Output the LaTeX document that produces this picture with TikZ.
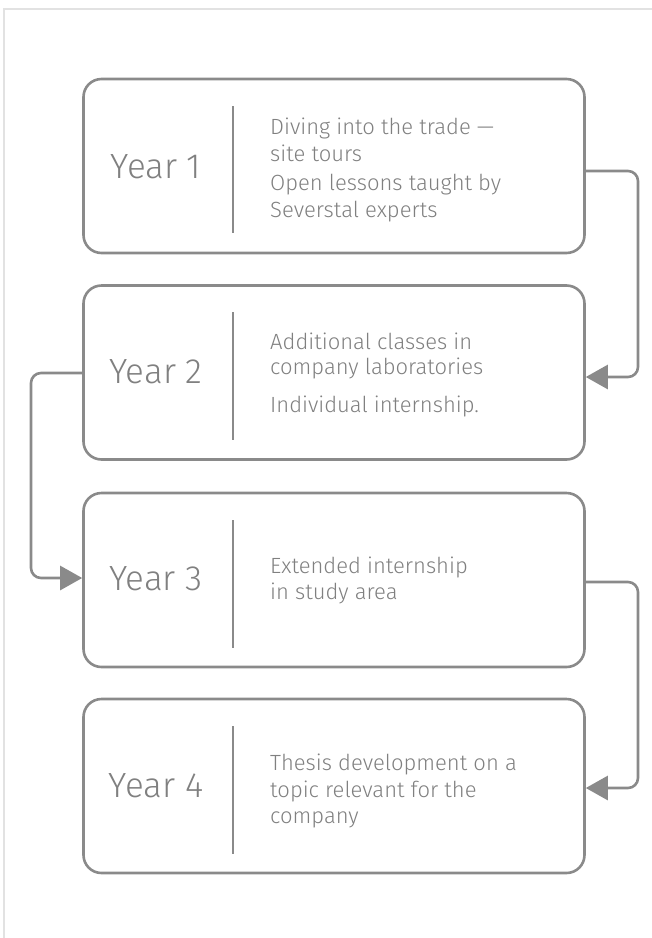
\documentclass[tikz,border=0pt]{standalone}
\usepackage{fontspec}
\setmainfont{Fira Sans Light}
\newfontfamily\yearfnt{Fira Sans Light}
\usetikzlibrary{arrows.meta}
\definecolor{linegray}{HTML}{8A8A8A}
\definecolor{textgray}{HTML}{808080}
\definecolor{framegray}{HTML}{E2E2E2}
\tikzset{
  yearbox/.style={draw=linegray, line width=2.6pt, rounded corners=18pt, minimum width=501pt, minimum height=174pt, inner sep=0pt},
  divider/.style={draw=linegray, line width=2.2pt},
  yearlabel/.style={text=textgray, font=\yearfnt\fontsize{35}{40}\selectfont, inner sep=0pt},
  desc/.style={text=textgray, font=\fontsize{22}{26}\selectfont, anchor=base west, inner sep=0pt},
  flow/.style={draw=linegray, line width=2.6pt, rounded corners=10pt, -{Triangle[length=22pt,width=24pt]}},
}
\begin{document}
\begin{tikzpicture}[x=1pt,y=-1pt]
\useasboundingbox (0,0) rectangle (652,938);
\draw[framegray, line width=1.4pt] (4,938) -- (4,9) -- (652,9);

% boxes
\node[yearbox] (b1) at (334,166) {};
\node[yearbox] (b2) at (334,372.5) {};
\node[yearbox] (b3) at (334,580) {};
\node[yearbox] (b4) at (334,786) {};

% dividers
\draw[divider] (233,106) -- (233,233);
\draw[divider] (233,312) -- (233,440);
\draw[divider] (233,520) -- (233,648);
\draw[divider] (233,726) -- (233,854);

% year labels
\node[yearlabel] (y1) at (156,167) {Year 1};
\node[yearlabel] (y2) at (156,372) {Year 2};
\node[yearlabel] (y3) at (156,579) {Year 3};
\node[yearlabel] (y4) at (156,786) {Year 4};

% descriptions
\node[desc] (t1a) at (270,134) {Diving into the trade —};
\node[desc] (t1b) at (270,161) {site tours};
\node[desc] (t1c) at (270,190) {Open lessons taught by};
\node[desc] (t1d) at (270,217) {Severstal experts};
\node[desc] (t2a) at (270,349) {Additional classes in};
\node[desc] (t2b) at (270,374) {company laboratories};
\node[desc] (t2c) at (270,412) {Individual internship.};
\node[desc] (t3a) at (270,573) {Extended internship};
\node[desc] (t3b) at (270,599) {in study area};
\node[desc] (t4a) at (270,770) {Thesis development on a};
\node[desc] (t4b) at (270,797) {topic relevant for the};
\node[desc] (t4c) at (270,823) {company};

% connectors
\coordinate (c1) at (638,171);
\coordinate (c2) at (31,373);
\coordinate (c3) at (638,582);
\draw[flow] (b1.east |- c1) -- (c1) -- (c1 |- 0,377) -- (b2.east |- 0,377);
\draw[flow] (b2.west |- c2) -- (c2) -- (c2 |- 0,578) -- (b3.west |- 0,578);
\draw[flow] (b3.east |- c3) -- (c3) -- (c3 |- 0,788) -- (b4.east |- 0,788);
\end{tikzpicture}
\end{document}
